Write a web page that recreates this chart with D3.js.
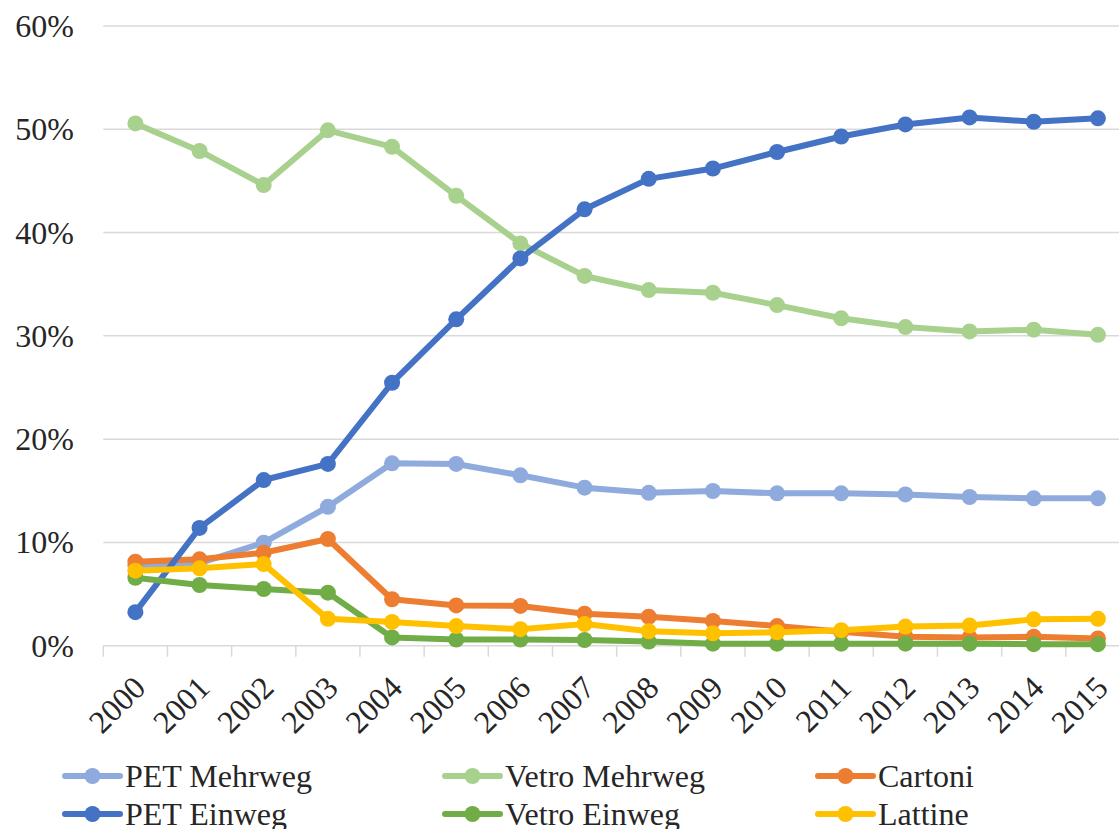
<!DOCTYPE html>
<html><head><meta charset="utf-8">
<script src="https://cdn.jsdelivr.net/npm/d3@7"></script>
<style>body{margin:0;background:#fff}svg{display:block}</style>
</head><body>
<svg id="chart" width="1119" height="829"></svg>
<script>
const years = ["2000","2001","2002","2003","2004","2005","2006","2007","2008","2009","2010","2011","2012","2013","2014","2015"];
const yTicks = [0,0.1,0.2,0.3,0.4,0.5,0.6];
const seriesNames = ["PET Mehrweg","Vetro Mehrweg","Cartoni","PET Einweg","Vetro Einweg","Lattine"];
const seriesColors = ["#8faadc","#a9d18e","#ed7d31","#4472c4","#70ad47","#ffc000"];
const petMehrweg   = [7.8,8.0,9.97,13.45,17.66,17.6,16.5,15.3,14.8,14.98,14.75,14.75,14.65,14.4,14.27,14.27];
const vetroMehrweg = [50.57,47.9,44.6,49.9,48.3,43.56,38.95,35.8,34.43,34.17,32.98,31.7,30.85,30.43,30.6,30.1];
const cartoni      = [8.13,8.36,9.0,10.33,4.5,3.9,3.85,3.1,2.8,2.4,1.9,1.35,0.87,0.8,0.87,0.7];
const petEinweg    = [3.25,11.4,16.04,17.6,25.46,31.6,37.5,42.25,45.2,46.2,47.8,49.3,50.47,51.15,50.73,51.06];
const vetroEinweg  = [6.58,5.88,5.49,5.13,0.8,0.6,0.6,0.55,0.4,0.2,0.2,0.2,0.2,0.2,0.15,0.15];
const lattine      = [7.26,7.49,7.9,2.6,2.3,1.9,1.6,2.1,1.4,1.2,1.3,1.5,1.85,1.95,2.55,2.6];
const seriesValues = [petMehrweg,vetroMehrweg,cartoni,petEinweg,vetroEinweg,lattine];

const FONT = '"Liberation Serif"';
const svg = d3.select("#chart");

const x = d3.scaleBand().domain(years).range([103.3, 1130]).padding(0);
const y = d3.scaleLinear().domain([0, 0.6]).range([645.7, 26]);

// gridlines
svg.append("g").selectAll("line").data(yTicks).join("line")
  .attr("x1", 103.3).attr("x2", 1130)
  .attr("y1", d => y(d)).attr("y2", d => y(d))
  .attr("stroke", "#d9d9d9").attr("stroke-width", 1.5);

// y axis labels
const yAxis = d3.axisLeft(y).tickValues(yTicks).tickFormat(d3.format(".0%")).tickSize(0).tickPadding(0);
const gy = svg.append("g").attr("transform", "translate(74,0)").call(yAxis);
gy.select(".domain").remove();
gy.attr("font-family", null).attr("font-size", null);
gy.selectAll("text").style("font-family", FONT).style("font-size", "32px")
  .attr("fill", "#262626").attr("dy", "0.33em");

// x axis tick marks between categories
const bounds = years.map(d => x(d)).concat([x(years[years.length-1]) + x.bandwidth()]);
svg.append("g").selectAll("line").data(bounds).join("line")
  .attr("x1", d => d).attr("x2", d => d)
  .attr("y1", y(0)).attr("y2", y(0) + 11)
  .attr("stroke", "#d9d9d9").attr("stroke-width", 1.5);

// x labels
svg.append("g").selectAll("text").data(years).join("text")
  .attr("transform", d => `translate(${x(d) + x.bandwidth()/2 + 4},${y(0) + 36}) rotate(-45)`)
  .attr("text-anchor", "end").attr("dy", "0.35em")
  .style("font-family", FONT).style("font-size", "32px").attr("fill", "#262626")
  .text(d => d);

// lines
const line = d3.line().x((d, i) => x(years[i]) + x.bandwidth()/2).y(d => y(d / 100));
seriesValues.forEach((vals, si) => {
  const g = svg.append("g");
  g.append("path").datum(vals).attr("d", line)
    .attr("fill", "none").attr("stroke", seriesColors[si]).attr("stroke-width", 6)
    .attr("stroke-linejoin", "round").attr("stroke-linecap", "round");
  g.selectAll("circle").data(vals).join("circle")
    .attr("cx", (d, i) => x(years[i]) + x.bandwidth()/2)
    .attr("cy", d => y(d / 100)).attr("r", 8)
    .attr("fill", seriesColors[si]);
});

// legend
const legX = [65, 445, 818];
const legY = [776, 814];
seriesNames.forEach((name, i) => {
  const col = i % 3, row = Math.floor(i / 3);
  const g = svg.append("g").attr("transform", `translate(${legX[col]},${legY[row]})`);
  g.append("line").attr("x1", 0).attr("x2", 55).attr("y1", 0).attr("y2", 0)
    .attr("stroke", seriesColors[i]).attr("stroke-width", 6).attr("stroke-linecap", "round");
  g.append("circle").attr("cx", 27.5).attr("cy", 0).attr("r", 8).attr("fill", seriesColors[i]);
  g.append("text").attr("x", 60).attr("y", 0).attr("dy", "0.33em")
    .style("font-family", FONT).style("font-size", "32px").attr("fill", "#262626").text(name);
});
</script></body></html>
